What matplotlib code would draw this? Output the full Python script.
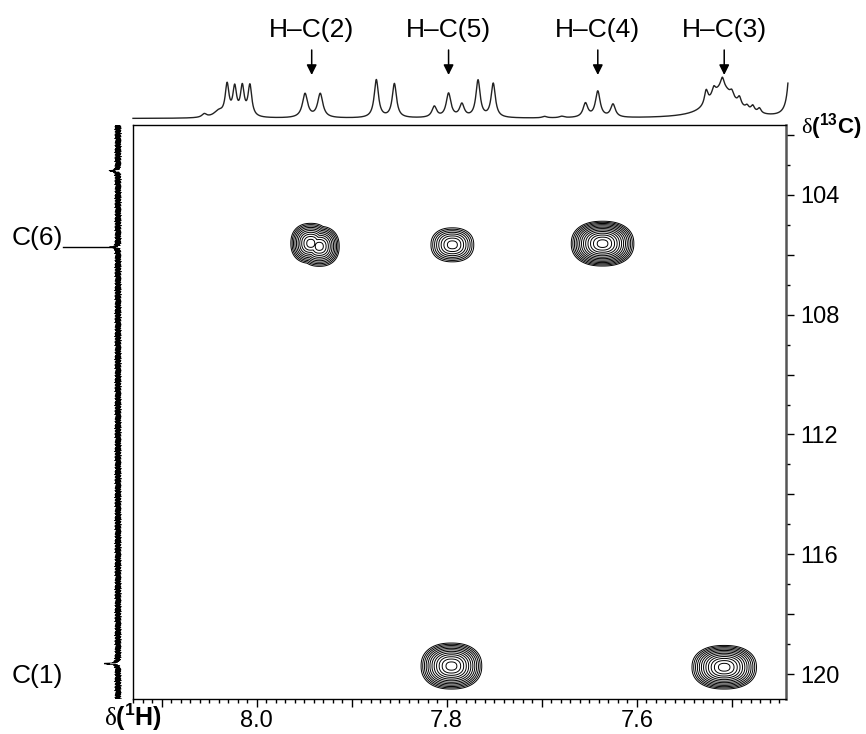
import numpy as np
import matplotlib.pyplot as plt
from matplotlib.ticker import MultipleLocator, FuncFormatter

plt.rcParams['font.family'] = ['Liberation Sans', 'DejaVu Sans']
plt.rcParams['mathtext.fontset'] = 'custom'
plt.rcParams['mathtext.rm'] = 'Liberation Serif'
plt.rcParams['mathtext.bf'] = 'Liberation Sans:bold'

# axis ranges (ppm)
h_lim = (8.13, 7.443)
c_lim = (120.83, 101.67)

# 1H projection (top): peak positions, heights, half widths
h_peaks = [8.055, 8.040, 8.031, 8.023, 8.015, 8.007, 7.949, 7.933, 7.874, 7.855,
           7.813, 7.798, 7.784, 7.767, 7.751, 7.697, 7.679, 7.654, 7.641, 7.625,
           7.527, 7.519, 7.510, 7.500, 7.492, 7.484, 7.478, 7.471, 7.510, 7.437]
h_heights = [3.5, 6, 31, 28, 29, 31, 24, 24, 38, 34,
             11, 24, 13, 37, 34, 1.5, 1.5, 14, 26, 13,
             14, 8, 10, 6, 8, 4, 6, 5, 30, 120]
h_widths = [0.003, 0.006, 0.0024, 0.0024, 0.0024, 0.0024, 0.0033, 0.0033, 0.0027, 0.0027,
            0.003, 0.003, 0.003, 0.0027, 0.0027, 0.003, 0.003, 0.003, 0.003, 0.003,
            0.0022, 0.0022, 0.0022, 0.0022, 0.0022, 0.0022, 0.0022, 0.0022, 0.016, 0.0025]

# 13C projection (left): peaks and noise pattern
c_peaks = [103.2, 105.75, 119.65]
c_heights = [8, 6, 13]
c_noise = [0.5, -1.8, 2.6, -0.7, 1.9, -2.9, 0.3, 3.1, -1.2, -2.4, 1.4, 0.0, 2.8, -3.3, 0.9, -0.4,
           2.2, -1.6, 3.4, -2.1, 0.6, 1.7, -3.0, 0.2, -1.1, 2.5, -0.3, -2.7, 1.2, 3.0, -1.9, 0.8,
           -0.6, 2.0, -2.5, 1.5, -3.4, 0.4, 2.9, -1.4, 1.0, -2.2, 3.2, -0.9, 0.1, -2.8, 1.8, -1.0,
           2.4, -3.1, 0.7, 1.3, -1.5, 2.7, -0.2, -2.3, 3.3, -1.7, 0.9, -2.6, 1.6, -0.5, 2.1, -3.2,
           1.1, -0.8, 2.3, -2.0, 0.2, 1.9, -3.0, 2.6, -1.3, 0.6, -2.4, 3.0, -0.1, 1.5, -1.9, 0.4,
           -2.9, 2.2, -0.6, 1.0, -1.6, 3.1, -2.2, 0.8, -0.3, 2.5, -3.3, 1.3, -1.1, 0.0, 2.0, -2.7]

# cross peaks: centres, outer half widths, number of contour levels
cross_h = [7.943, 7.934, 7.794, 7.636, 7.795, 7.508]
cross_c = [105.62, 105.72, 105.67, 105.63, 119.73, 119.77]
cross_wh = [0.021, 0.021, 0.0226, 0.033, 0.032, 0.034]
cross_wc = [0.67, 0.67, 0.57, 0.75, 0.77, 0.73]
cross_n = [9, 9, 7, 12, 11, 11]

h_labels = ['H–C(2)', 'H–C(5)', 'H–C(4)', 'H–C(3)']
h_label_pos = [7.942, 7.798, 7.641, 7.508]
c_labels = ['C(6)', 'C(1)']
c_label_pos = [105.45, 120.07]

W, H = 866, 734


def px_box(l, t, r, b):
    return [l / W, 1 - b / H, (r - l) / W, (b - t) / H]


fig = plt.figure(figsize=(W / 100, H / 100), dpi=100)
ax = fig.add_axes(px_box(133, 125, 786, 699))
ax_top = fig.add_axes(px_box(133, 60, 786, 125))
ax_left = fig.add_axes(px_box(95, 125, 133, 699))

# contour map
hh, cc = np.meshgrid(np.linspace(h_lim[0], h_lim[1], 900), np.linspace(c_lim[1], c_lim[0], 1000))
p = 2.3
s = 1.6
z = np.full_like(hh, -1.0)
for h0, c0, wh, wc, n in zip(cross_h, cross_c, cross_wh, cross_wc, cross_n):
    rho = (np.abs((hh - h0) / wh) ** p + np.abs((cc - c0) / wc) ** p) ** (1 / p)
    z = np.maximum(z, (n + 0.8) * (1 - rho ** s))
ax.contour(hh, cc, z, levels=np.arange(0, 14) + 0.05, colors='black', linewidths=0.7)

ax.set_xlim(h_lim)
ax.set_ylim(c_lim)
ax.xaxis.set_major_locator(MultipleLocator(0.1))
ax.xaxis.set_minor_locator(MultipleLocator(0.01))
ax.xaxis.set_major_formatter(FuncFormatter(lambda v, pos: f'{v:.1f}' if round(v * 10) % 2 == 0 else ''))
ax.yaxis.tick_right()
ax.yaxis.set_major_locator(MultipleLocator(2))
ax.yaxis.set_minor_locator(MultipleLocator(1))
ax.yaxis.set_major_formatter(FuncFormatter(lambda v, pos: f'{v:.0f}' if round(v) % 4 == 0 else ''))
ax.tick_params(which='both', direction='out', width=1, labelsize=17)
ax.tick_params(axis='x', which='major', length=6, pad=2)
ax.tick_params(axis='x', which='minor', length=3)
ax.tick_params(axis='y', which='major', length=6, pad=4)
ax.tick_params(axis='y', which='minor', length=3)
for sp in ['left', 'top', 'bottom']:
    ax.spines[sp].set_linewidth(1.0)
ax.spines['right'].set_linewidth(1.8)
ax.spines['right'].set_color('#555555')

# top 1H trace
x = np.linspace(h_lim[0], 7.441, 4000)
y = np.zeros_like(x)
for c0, a, w in zip(h_peaks, h_heights, h_widths):
    y += a / (1 + ((x - c0) / w) ** 2)
ax_top.plot(x, y, color='#222222', lw=1.0, clip_on=False)
ax_top.set_xlim(h_lim)
ax_top.set_ylim(-6.5, 58.5)
ax_top.axis('off')
for lab, pos in zip(h_labels, h_label_pos):
    ax_top.text(pos, 88.5, lab, ha='center', va='center', fontsize=19, clip_on=False)
    ax_top.annotate('', xy=(pos, 43.5), xytext=(pos, 68.5), annotation_clip=False,
                    arrowprops=dict(arrowstyle='-|>', color='black', lw=1.1,
                                    mutation_scale=15, shrinkA=0, shrinkB=0))

# left 13C trace
yc = np.arange(c_lim[1], c_lim[0], 0.008)
d = np.resize(np.array(c_noise), len(yc)).astype(float)
for c0, a in zip(c_peaks, c_heights):
    d += a / (1 + ((yc - c0) / 0.025) ** 2)
ax_left.plot(d, yc, color='black', lw=0.6)
ax_left.set_xlim(23, -15)
ax_left.set_ylim(c_lim)
ax_left.axis('off')
ax_left.plot([55, 3], [c_peaks[1], c_peaks[1]], color='black', lw=1, clip_on=False)
for lab, pos in zip(c_labels, c_label_pos):
    ax_left.text(81, pos, lab, ha='center', va='center', fontsize=19, clip_on=False)

fig.text(801 / W, 1 - 127 / H, r'$\mathrm{\delta}\mathbf{(^{13}C)}$', ha='left', va='center', fontsize=16)
fig.text(133 / W, 1 - 717 / H, r'$\mathrm{\delta}\mathbf{(^{1}H)}$', ha='center', va='center', fontsize=18)

fig.savefig('out.png', dpi=100)
